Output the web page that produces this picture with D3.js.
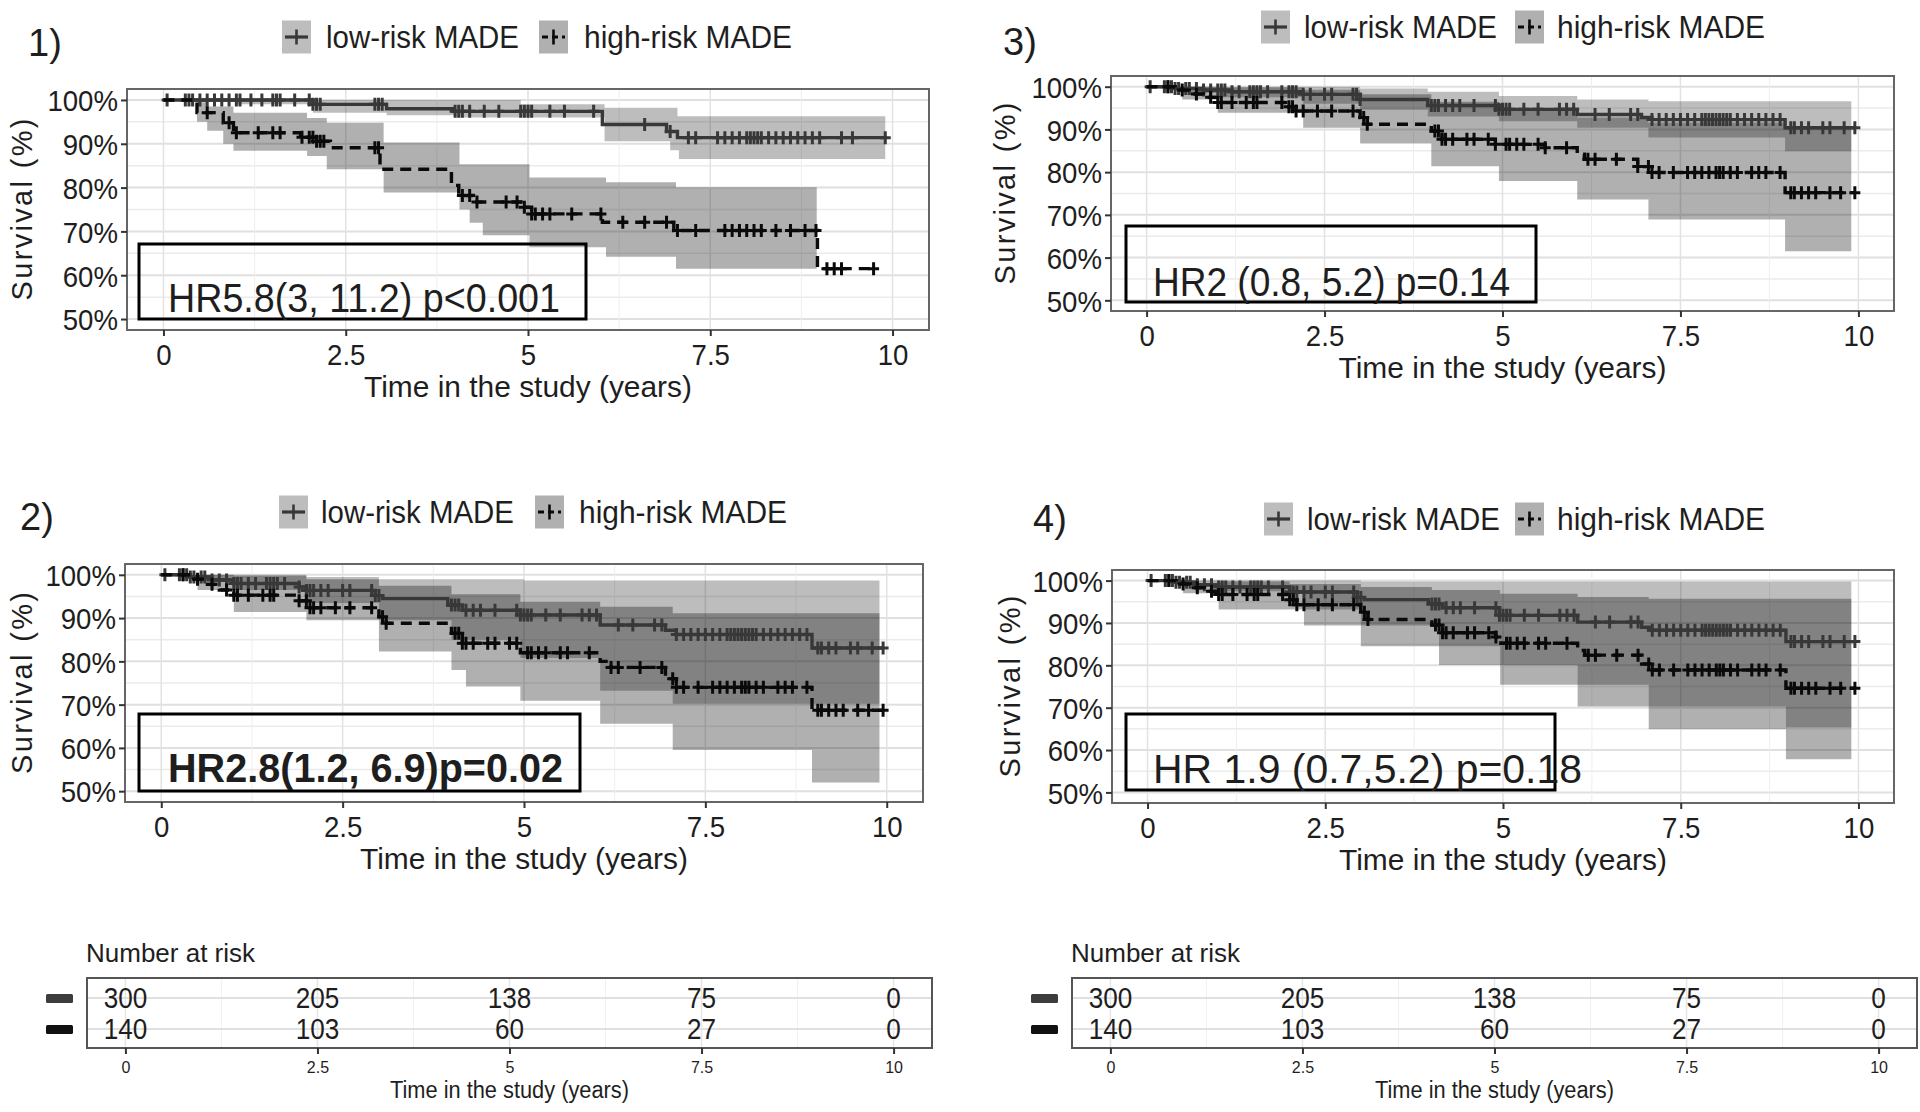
<!DOCTYPE html>
<html>
<head>
<meta charset="utf-8">
<script src="https://cdn.jsdelivr.net/npm/d3@7"></script>
<style>
  body { margin: 0; background: #fff; }
  svg { display: block; }
  text { font-family: "Liberation Sans", Arial, sans-serif; fill: #1e1e1e; }
</style>
</head>
<body>
<svg id="chart" width="1920" height="1112"></svg>
<script>
const svg = d3.select("#chart");

// ---- shared axis / legend text ----
const xTicks = [0, 2.5, 5, 7.5, 10];
const xTickLabels = ["0", "2.5", "5", "7.5", "10"];
const yTicks = [50, 60, 70, 80, 90, 100];
const yTickLabels = ["50%", "60%", "70%", "80%", "90%", "100%"];
const groupNames = ["low-risk MADE", "high-risk MADE"];
const xTitle = "Time in the study (years)";
const yTitle = "Survival (%)";

// ---- censoring times (years) ----
const censorLow1 = [0.05, 0.3, 0.35, 0.4, 0.5, 0.6, 0.7, 0.8, 0.9, 1.0, 1.05, 1.2, 1.35, 1.5, 1.55, 1.6, 1.8,
  2.0, 2.05, 2.1, 2.15, 2.9, 2.95, 3.0, 4.0, 4.05, 4.1, 4.2, 4.4, 4.6, 4.9, 4.95, 5.0, 5.05, 5.3, 5.5, 5.9,
  6.6, 6.95, 7.2, 7.3, 7.6, 7.7, 7.8, 7.9, 8.0, 8.05, 8.1, 8.15, 8.2, 8.3, 8.4, 8.5, 8.6, 8.7, 8.8, 8.9, 9.0,
  9.3, 9.45, 9.9];
const censorHigh1 = [0.6, 0.9, 1.0, 1.3, 1.5, 1.6, 1.9, 2.0, 2.05, 2.1, 2.15, 2.2, 2.9, 2.95, 4.1,
  4.2, 4.3, 4.7, 4.85, 4.95, 5.05, 5.1, 5.2, 5.3, 5.6, 6.0, 6.3, 6.6, 6.9, 7.05, 7.3, 7.7, 7.8, 7.9, 8.0, 8.1,
  8.2, 8.4, 8.6, 8.8, 8.95, 9.1, 9.2, 9.3, 9.74];
const censorLow = [0.05, 0.25, 0.3, 0.35, 0.4, 0.45, 0.55, 0.6, 0.7, 0.8, 0.9, 1.0, 1.05, 1.1, 1.2, 1.3, 1.45,
  1.5, 1.55, 1.6, 1.7, 1.9, 2.0, 2.05, 2.1, 2.2, 2.3, 2.5, 2.6, 2.9, 2.95, 3.0, 4.0, 4.05, 4.1, 4.2, 4.3, 4.4,
  4.6, 4.9, 4.95, 5.0, 5.05, 5.1, 5.3, 5.5, 5.8, 5.9, 6.0, 6.3, 6.5, 6.8, 6.9, 7.1, 7.2, 7.3, 7.4, 7.5, 7.6,
  7.7, 7.8, 7.85, 7.9, 7.95, 8.0, 8.05, 8.1, 8.15, 8.2, 8.3, 8.4, 8.5, 8.6, 8.7, 8.8, 8.9, 9.05, 9.1, 9.2,
  9.3, 9.5, 9.6, 9.8, 9.95];
const censorHigh = [0.3, 0.5, 0.7, 0.9, 1.0, 1.05, 1.2, 1.4, 1.5, 1.55, 1.9, 2.0, 2.05, 2.1, 2.2, 2.4, 2.6,
  2.9, 3.05, 3.1, 4.05, 4.1, 4.15, 4.2, 4.3, 4.5, 4.6, 4.8, 4.9, 5.05, 5.1, 5.2, 5.3, 5.5, 5.6, 5.9, 6.2, 6.3,
  6.6, 6.9, 7.05, 7.1, 7.2, 7.4, 7.6, 7.7, 7.8, 7.9, 8.0, 8.05, 8.1, 8.2, 8.3, 8.5, 8.6, 8.7, 8.9, 9.05, 9.1,
  9.2, 9.3, 9.4, 9.6, 9.75, 9.95];

// ---- panel 1 : [time, survival %] step points ----
const p1LowCurve = [[0, 100], [2.05, 99.0], [3.06, 98.0], [3.97, 97.4], [6.02, 94.4], [6.9, 92.8], [7.05, 91.4]];
const p1LowUpper = [[0, 100], [4.9, 99.0], [6.05, 98.2], [7.05, 96.3]];
const p1LowLower = [[0, 100], [1.0, 99.0], [2.05, 97.1], [3.06, 96.5], [4.0, 96.0], [6.05, 90.6], [6.95, 88.5], [7.07, 86.5]];
const p1HighCurve = [[0, 100], [0.46, 97.1], [0.82, 94.8], [0.96, 92.5], [1.88, 91.5], [2.1, 90.6], [2.29, 89.1],
  [2.97, 84.2], [3.95, 80.5], [4.05, 78.2], [4.25, 76.7], [4.9, 75.5], [5.05, 74.0], [6.02, 72.1], [7.0, 70.2], [8.97, 61.5]];
const p1HighUpper = [[0, 100], [0.46, 99.5], [0.6, 98.5], [0.96, 97.1], [1.97, 95.9], [2.24, 94.8], [3.02, 90.3],
  [4.06, 85.3], [5.02, 82.3], [6.07, 81.2], [7.03, 80.1]];
const p1HighLower = [[0, 100], [0.46, 95.0], [0.6, 93.0], [0.82, 90.0], [0.96, 88.4], [1.97, 87.2], [2.24, 84.2],
  [3.02, 78.9], [4.06, 75.0], [4.2, 72.0], [4.38, 69.1], [5.02, 66.4], [6.07, 64.2], [7.03, 61.5]];

// ---- panel 2 ----
const p2LowCurve = [[0, 100], [0.4, 99.5], [0.7, 98.8], [1.0, 98.0], [1.9, 97.2], [2.0, 96.4], [2.95, 95.2],
  [3.05, 94.5], [3.95, 93.0], [4.15, 91.8], [4.95, 90.7], [6.05, 88.4], [6.95, 87.2], [7.1, 86.2], [8.97, 83.1]];
const p2LowUpper = [[0, 100], [2.0, 99.5], [3.0, 99.0], [5.0, 98.7]];
const p2LowLower = [[0, 100], [0.5, 98.5], [1.0, 96.5], [2.0, 93.5], [3.0, 89.5], [4.0, 85.0], [4.95, 80.8],
  [6.05, 73.2], [7.05, 70.2]];
const p2HighCurve = [[0, 100], [0.4, 99.0], [0.6, 97.8], [0.8, 96.5], [1.0, 95.3], [1.9, 94.0], [2.05, 92.4],
  [3.0, 90.3], [3.1, 88.8], [4.0, 86.5], [4.15, 84.2], [4.95, 82.0], [6.05, 80.0], [6.2, 78.6], [6.95, 76.0],
  [7.1, 74.0], [8.97, 68.7]];
const p2HighUpper = [[0, 100], [1.0, 99.8], [2.0, 99.0], [3.0, 97.5], [4.0, 95.5], [4.95, 93.8], [6.05, 92.6], [7.05, 91.1]];
const p2HighLower = [[0, 100], [0.5, 96.5], [1.0, 91.4], [2.0, 89.5], [3.0, 82.3], [4.0, 78.0], [4.2, 74.2],
  [4.95, 70.9], [6.05, 65.6], [7.05, 59.5], [8.97, 52.0]];

// ---- panel 3 ----
const p3LowCurve = [[0, 100], [0.4, 99.6], [0.8, 99.2], [1.2, 98.8], [2.2, 98.2], [3.0, 97.0], [3.95, 95.6],
  [4.95, 94.7], [6.05, 93.5], [6.95, 92.8], [7.1, 92.3], [8.97, 90.4]];
const p3LowUpper = [[0, 100], [3.0, 99.6], [3.95, 98.8], [4.95, 97.8], [6.05, 97.0], [7.05, 96.6]];
const p3LowLower = [[0, 100], [0.5, 98.5], [1.0, 97.5], [2.2, 96.0], [3.0, 94.6], [3.95, 93.0], [4.95, 91.9],
  [6.05, 90.4], [7.05, 88.1], [8.97, 84.9]];
const p3HighCurve = [[0, 100], [0.4, 99.2], [0.6, 98.3], [0.8, 97.5], [1.0, 96.3], [2.0, 95.3], [2.1, 94.3],
  [3.0, 92.8], [3.1, 91.2], [4.0, 89.6], [4.15, 87.7], [4.9, 86.5], [5.6, 85.7], [6.05, 84.2], [6.15, 83.0],
  [6.9, 81.3], [7.1, 79.9], [8.97, 75.2]];
const p3HighUpper = [[0, 100], [1.0, 99.8], [2.2, 99.3], [3.0, 98.2], [4.0, 96.5], [4.95, 94.5], [6.05, 92.8],
  [7.05, 91.6], [8.97, 90.8]];
const p3HighLower = [[0, 100], [0.5, 97.0], [1.0, 93.9], [2.2, 90.4], [3.0, 86.7], [4.0, 81.4], [4.95, 77.9],
  [6.05, 73.6], [7.05, 68.9], [8.97, 61.5]];

// ---- panel 4 ----
const p4LowCurve = [[0, 100], [0.4, 99.6], [0.7, 99.0], [1.0, 98.5], [2.0, 97.3], [2.95, 96.0], [3.05, 95.5],
  [3.95, 94.5], [4.15, 93.6], [4.95, 91.8], [6.05, 90.2], [6.95, 89.0], [7.07, 88.3], [8.98, 85.6]];
const p4LowUpper = [[0, 100], [3.0, 99.8]];
const p4LowLower = [[0, 100], [1.0, 97.5], [2.2, 93.2], [3.0, 89.4], [4.1, 84.5], [4.96, 80.1], [6.05, 75.4],
  [7.05, 70.3], [8.98, 65.3]];
const p4HighCurve = [[0, 100], [0.4, 99.2], [0.6, 98.3], [0.8, 97.5], [1.0, 96.7], [2.0, 95.5], [2.1, 94.3],
  [3.0, 92.5], [3.1, 90.8], [4.0, 89.5], [4.15, 87.7], [4.9, 86.7], [4.97, 85.2], [6.05, 83.5], [6.15, 82.4],
  [6.95, 80.3], [7.07, 78.9], [8.98, 74.6]];
const p4HighUpper = [[0, 100], [1.0, 99.8], [2.0, 99.2], [3.0, 98.5], [4.0, 97.8], [4.96, 96.9], [6.05, 96.1], [7.05, 95.7]];
const p4HighLower = [[0, 100], [0.5, 97.0], [1.0, 93.2], [2.2, 89.4], [3.0, 84.5], [4.1, 80.1], [4.96, 75.4],
  [6.05, 70.3], [7.05, 64.9], [8.98, 57.8]];

// ---- hazard ratio annotations ----
const hrLabels = ["HR5.8(3, 11.2) p<0.001", "HR2.8(1.2, 6.9)p=0.02", "HR2 (0.8, 5.2) p=0.14", "HR 1.9 (0.7,5.2) p=0.18"];

// ---- number at risk ----
const riskTimes = [0, 2.5, 5, 7.5, 10];
const riskLow = [300, 205, 138, 75, 0];
const riskHigh = [140, 103, 60, 27, 0];

// styles
const lowStyle = { line: "#383838", dash: null, band: 0.26 };
const highStyle = { line: "#0a0a0a", dash: "11,7", band: 0.31 };

function stepAt(steps, t) {
  let v = steps[0][1];
  steps.forEach(([st, sv]) => { if (st <= t) v = sv; });
  return v;
}

let clipId = 0;

function drawPanel(p) {
  const g = svg.append("g");
  const f = p.frame;
  const x = d3.scaleLinear().domain([-0.5, 10.5]).range([f.l, f.r]);
  const y = d3.scaleLinear().domain([47.5, 102.5]).range([f.b, f.t]);

  const cid = "clip" + (clipId++);
  g.append("clipPath").attr("id", cid)
    .append("rect").attr("x", f.l).attr("y", f.t).attr("width", f.r - f.l).attr("height", f.b - f.t);

  // grid
  const grid = g.append("g");
  grid.selectAll(".gym").data([55, 65, 75, 85, 95]).join("line")
    .attr("x1", f.l).attr("x2", f.r).attr("y1", d => y(d)).attr("y2", d => y(d))
    .attr("stroke", "#ebebeb").attr("stroke-width", 1.5);
  grid.selectAll(".gyM").data(yTicks).join("line")
    .attr("x1", f.l).attr("x2", f.r).attr("y1", d => y(d)).attr("y2", d => y(d))
    .attr("stroke", "#e0e0e0").attr("stroke-width", 2);
  grid.selectAll(".gxm").data([1.25, 3.75, 6.25, 8.75]).join("line")
    .attr("y1", f.t).attr("y2", f.b).attr("x1", d => x(d)).attr("x2", d => x(d))
    .attr("stroke", "#eeeeee").attr("stroke-width", 1);
  grid.selectAll(".gxM").data(xTicks).join("line")
    .attr("y1", f.t).attr("y2", f.b).attr("x1", d => x(d)).attr("x2", d => x(d))
    .attr("stroke", "#e2e2e2").attr("stroke-width", 1.5);

  const plot = g.append("g").attr("clip-path", `url(#${cid})`);

  // confidence bands
  [p.low, p.high].forEach((s, i) => {
    const st = i === 0 ? lowStyle : highStyle;
    const times = Array.from(new Set([...s.upper.map(d => d[0]), ...s.lower.map(d => d[0]), s.bandEnd]))
      .filter(t => t <= s.bandEnd).sort((a, b) => a - b);
    const pts = times.map(t => ({ t, lo: stepAt(s.lower, t), hi: stepAt(s.upper, t) }));
    const area = d3.area().curve(d3.curveStepAfter)
      .x(d => x(d.t)).y0(d => y(d.lo)).y1(d => y(d.hi));
    plot.append("path").attr("d", area(pts)).attr("fill", "#000").attr("fill-opacity", st.band);
  });

  // survival curves + censor marks
  [p.low, p.high].forEach((s, i) => {
    const st = i === 0 ? lowStyle : highStyle;
    const pts = s.curve.concat([[s.end, s.curve[s.curve.length - 1][1]]]);
    const line = d3.line().curve(d3.curveStepAfter).x(d => x(d[0])).y(d => y(d[1]));
    const path = plot.append("path").attr("d", line(pts)).attr("fill", "none")
      .attr("stroke", st.line).attr("stroke-width", 3.4);
    if (st.dash) path.attr("stroke-dasharray", st.dash);
    const marks = s.censor.filter(t => t <= s.end);
    plot.append("g").selectAll("path").data(marks).join("path")
      .attr("d", t => {
        const cx = x(t), cy = y(stepAt(s.curve, t));
        return `M${cx - 5.5},${cy}H${cx + 5.5}M${cx},${cy - 6.5}V${cy + 6.5}`;
      })
      .attr("stroke", st.line).attr("stroke-width", 3);
  });

  // frame
  g.append("rect").attr("x", f.l).attr("y", f.t).attr("width", f.r - f.l).attr("height", f.b - f.t)
    .attr("fill", "none").attr("stroke", "#666").attr("stroke-width", 2);

  // axes
  const ax = g.append("g").attr("transform", `translate(0,${f.b})`)
    .call(d3.axisBottom(x).tickValues(xTicks).tickFormat((d, i) => xTickLabels[i]).tickSize(6).tickPadding(8));
  const ay = g.append("g").attr("transform", `translate(${f.l},0)`)
    .call(d3.axisLeft(y).tickValues(yTicks).tickFormat((d, i) => yTickLabels[i]).tickSize(6).tickPadding(3));
  [ax, ay].forEach(a => {
    a.select(".domain").remove();
    a.selectAll("line").attr("stroke", "#333").attr("stroke-width", 2);
    a.selectAll("text").attr("font-family", "Liberation Sans, Arial, sans-serif")
      .attr("font-size", 30).attr("fill", "#222")
      .each(function () { this.setAttribute("textLength", this.getComputedTextLength() * 0.92); })
      .attr("lengthAdjust", "spacingAndGlyphs");
  });
  ay.selectAll("text").attr("dy", "0.36em");

  g.append("text").attr("x", (f.l + f.r) / 2).attr("y", f.b + 67).attr("text-anchor", "middle")
    .attr("font-size", 30).attr("textLength", 328).attr("lengthAdjust", "spacingAndGlyphs").text(xTitle);
  g.append("text").attr("transform", `translate(${p.ylabX},${(f.t + f.b) / 2}) rotate(-90)`)
    .attr("text-anchor", "middle").attr("dy", "0.35em").attr("font-size", 29)
    .attr("textLength", 182).attr("lengthAdjust", "spacing").text(yTitle);

  // legend
  const lg = p.legend;
  [0, 1].forEach(i => {
    const st = i === 0 ? lowStyle : highStyle;
    const bx = lg.box[i];
    g.append("rect").attr("x", bx).attr("y", lg.cy - 16.5).attr("width", 29).attr("height", 33)
      .attr("fill", "#000").attr("fill-opacity", st.band);
    const kl = g.append("line").attr("x1", bx + 3).attr("x2", bx + 26).attr("y1", lg.cy).attr("y2", lg.cy)
      .attr("stroke", st.line).attr("stroke-width", 3.2);
    if (st.dash) kl.attr("stroke-dasharray", "6,4");
    g.append("line").attr("x1", bx + 14.5).attr("x2", bx + 14.5).attr("y1", lg.cy - 7.5).attr("y2", lg.cy + 7.5)
      .attr("stroke", st.line).attr("stroke-width", 2.6);
    g.append("text").attr("x", lg.text[i]).attr("y", lg.cy + 11).attr("font-size", 31)
      .attr("textLength", i === 0 ? 193 : 208).attr("lengthAdjust", "spacingAndGlyphs").text(groupNames[i]);
  });

  // panel tag
  g.append("text").attr("x", p.tag.x).attr("y", p.tag.y).attr("font-family", "Lato, sans-serif")
    .attr("font-size", 38).attr("fill", "#000").text(p.tag.label);

  // HR box
  const hb = p.hr;
  g.append("rect").attr("x", hb.l).attr("y", hb.t).attr("width", hb.r - hb.l).attr("height", hb.b - hb.t)
    .attr("fill", "none").attr("stroke", "#000").attr("stroke-width", 3);
  g.append("text").attr("x", hb.tx).attr("y", hb.ty).attr("font-family", "Lato, sans-serif")
    .attr("font-size", 40).attr("font-weight", hb.bold ? 700 : 400).attr("fill", "#000")
    .attr("textLength", hb.tw).attr("lengthAdjust", "spacingAndGlyphs").text(hb.label);
}

drawPanel({
  frame: { l: 127, r: 929, t: 89, b: 330 }, ylabX: 22,
  low: { curve: p1LowCurve, upper: p1LowUpper, lower: p1LowLower, end: 9.92, bandEnd: 9.9, censor: censorLow1 },
  high: { curve: p1HighCurve, upper: p1HighUpper, lower: p1HighLower, end: 9.74, bandEnd: 8.96, censor: censorHigh1 },
  legend: { cy: 37, box: [282, 539], text: [326, 584] },
  tag: { label: "1)", x: 28, y: 56 },
  hr: { l: 139, r: 586, t: 244, b: 319, tx: 168, ty: 312, tw: 392, label: hrLabels[0], bold: false }
});

drawPanel({
  frame: { l: 125, r: 923, t: 564, b: 802 }, ylabX: 22,
  low: { curve: p2LowCurve, upper: p2LowUpper, lower: p2LowLower, end: 9.95, bandEnd: 9.9, censor: censorLow },
  high: { curve: p2HighCurve, upper: p2HighUpper, lower: p2HighLower, end: 9.95, bandEnd: 9.9, censor: censorHigh },
  legend: { cy: 512, box: [279, 535], text: [321, 579] },
  tag: { label: "2)", x: 20, y: 530 },
  hr: { l: 139, r: 580, t: 714, b: 791, tx: 168, ty: 782, tw: 395, label: hrLabels[1], bold: true }
});

drawPanel({
  frame: { l: 1111, r: 1894, t: 76, b: 311 }, ylabX: 1005,
  low: { curve: p3LowCurve, upper: p3LowUpper, lower: p3LowLower, end: 9.95, bandEnd: 9.9, censor: censorLow },
  high: { curve: p3HighCurve, upper: p3HighUpper, lower: p3HighLower, end: 9.95, bandEnd: 9.9, censor: censorHigh },
  legend: { cy: 27, box: [1261, 1515], text: [1304, 1557] },
  tag: { label: "3)", x: 1003, y: 55 },
  hr: { l: 1126, r: 1536, t: 226, b: 302, tx: 1153, ty: 296, tw: 357, label: hrLabels[2], bold: false }
});

drawPanel({
  frame: { l: 1112, r: 1894, t: 570, b: 803 }, ylabX: 1010,
  low: { curve: p4LowCurve, upper: p4LowUpper, lower: p4LowLower, end: 9.95, bandEnd: 9.9, censor: censorLow },
  high: { curve: p4HighCurve, upper: p4HighUpper, lower: p4HighLower, end: 9.95, bandEnd: 9.9, censor: censorHigh },
  legend: { cy: 519, box: [1264, 1515], text: [1307, 1557] },
  tag: { label: "4)", x: 1033, y: 532 },
  hr: { l: 1126, r: 1555, t: 714, b: 790, tx: 1153, ty: 783, tw: 429, label: hrLabels[3], bold: false }
});

// ---- number-at-risk tables ----
function drawRisk(t) {
  const g = svg.append("g");
  const x = d3.scaleLinear().domain([-0.5, 10.5]).range([t.l, t.r]);
  const rows = [t.top + 20, t.top + 51];

  g.append("text").attr("x", t.l - 1).attr("y", 962).attr("font-size", 26).text("Number at risk");

  g.selectAll(".vg").data([1.25, 3.75, 6.25, 8.75]).join("line")
    .attr("x1", d => x(d)).attr("x2", d => x(d)).attr("y1", t.top).attr("y2", t.bottom)
    .attr("stroke", "#f0f0f0").attr("stroke-width", 1);
  g.selectAll(".vG").data(riskTimes).join("line")
    .attr("x1", d => x(d)).attr("x2", d => x(d)).attr("y1", t.top).attr("y2", t.bottom)
    .attr("stroke", "#e6e6e6").attr("stroke-width", 1.5);
  g.selectAll(".hg").data(rows).join("line")
    .attr("x1", t.l).attr("x2", t.r).attr("y1", d => d).attr("y2", d => d)
    .attr("stroke", "#e0e0e0").attr("stroke-width", 2);

  [riskLow, riskHigh].forEach((vals, i) => {
    const col = i === 0 ? "#3c3c3c" : "#111";
    g.append("rect").attr("x", t.sw).attr("y", rows[i] - 4).attr("width", 27).attr("height", 9)
      .attr("fill", col).attr("rx", 1.5);
    g.selectAll(null).data(vals).join("text")
      .attr("x", (d, j) => x(riskTimes[j])).attr("y", rows[i] + 10).attr("text-anchor", "middle")
      .attr("font-size", 29).attr("fill", col).text(d => d)
      .each(function () { this.setAttribute("textLength", this.getComputedTextLength() * 0.9); })
      .attr("lengthAdjust", "spacingAndGlyphs");
  });

  g.append("rect").attr("x", t.l).attr("y", t.top).attr("width", t.r - t.l).attr("height", t.bottom - t.top)
    .attr("fill", "none").attr("stroke", "#555").attr("stroke-width", 2);

  const ax = g.append("g").attr("transform", `translate(0,${t.bottom})`)
    .call(d3.axisBottom(x).tickValues(xTicks).tickFormat((d, i) => xTickLabels[i]).tickSize(6).tickPadding(8));
  ax.select(".domain").remove();
  ax.selectAll("line").attr("stroke", "#333").attr("stroke-width", 2);
  ax.selectAll("text").attr("font-family", "Liberation Sans, Arial, sans-serif").attr("font-size", 16).attr("fill", "#333");

  g.append("text").attr("x", (t.l + t.r) / 2).attr("y", 1098).attr("text-anchor", "middle")
    .attr("font-size", 23).attr("textLength", 239).attr("lengthAdjust", "spacingAndGlyphs").text(xTitle);
}

drawRisk({ l: 87, r: 932, top: 978, bottom: 1048, sw: 46 });
drawRisk({ l: 1072, r: 1917, top: 978, bottom: 1048, sw: 1031 });
</script>
</body>
</html>
